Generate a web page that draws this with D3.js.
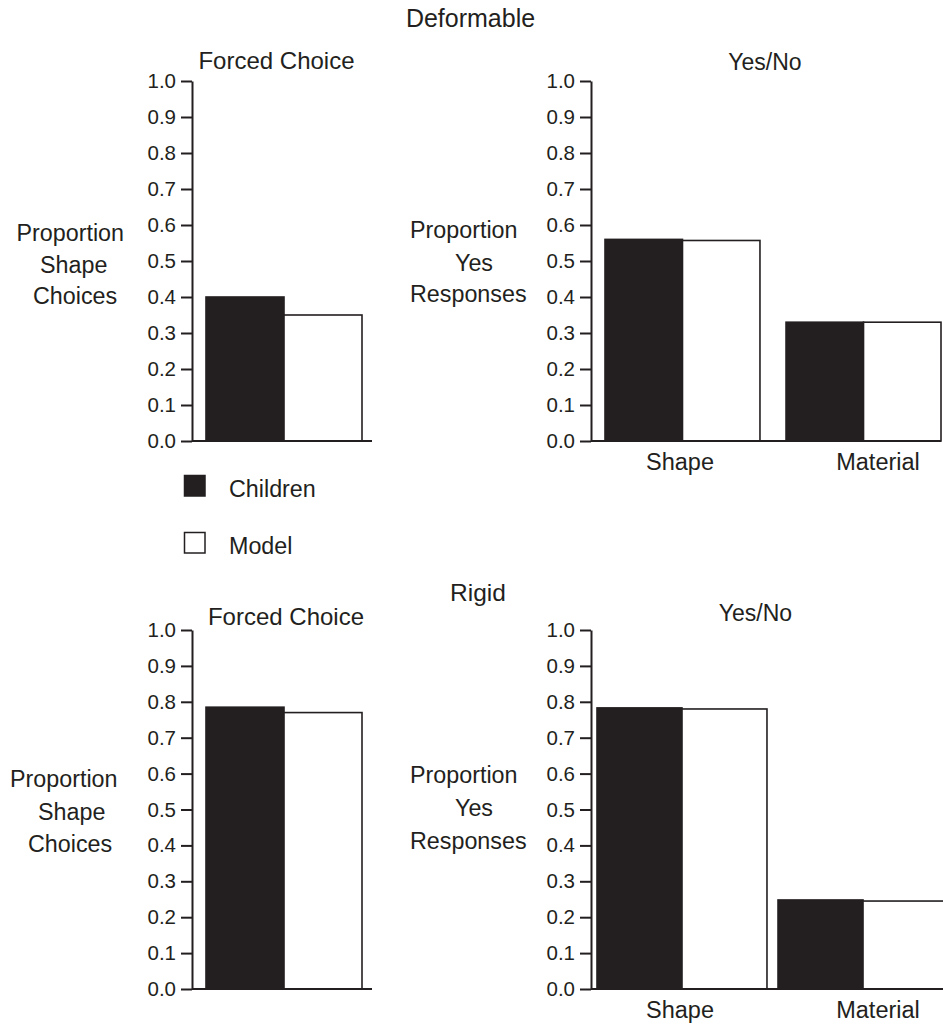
<!DOCTYPE html>
<html>
<head>
<meta charset="utf-8">
<script src="https://cdn.jsdelivr.net/npm/d3@7"></script>
<style>
  html, body { margin: 0; padding: 0; background: #fff; }
  svg { display: block; }
  text { font-family: "Liberation Sans", Arial, sans-serif; fill: #231f20; }
</style>
</head>
<body>
<svg id="chart" width="943" height="1025"></svg>
<script>
// ---------------- data ----------------
const series = ["Children", "Model"];
const forcedCategories = ["Forced Choice"];
const yesNoCategories = ["Shape", "Material"];
const yTicks = [0.0, 0.1, 0.2, 0.3, 0.4, 0.5, 0.6, 0.7, 0.8, 0.9, 1.0];

// Deformable
const deformableForcedChildren = [0.40];
const deformableForcedModel = [0.35];
const deformableYesNoChildren = [0.56, 0.33];
const deformableYesNoModel = [0.557, 0.33];

// Rigid
const rigidForcedChildren = [0.785];
const rigidForcedModel = [0.77];
const rigidYesNoChildren = [0.783, 0.248];
const rigidYesNoModel = [0.78, 0.245];

// ---------------- drawing ----------------
const INK = "#231f20";
const fills = { Children: INK, Model: "#ffffff" };
const svg = d3.select("#chart");

function panel(opts) {
  const g = svg.append("g");
  const y = d3.scaleLinear().domain([0, 1]).range([opts.yBottom, opts.yTop]);
  const x = d3.scaleBand().domain(opts.categories).range(opts.groupRange)
    .paddingInner(opts.paddingInner).paddingOuter(0);
  const xs = d3.scaleBand().domain(series).range([0, x.bandwidth()]);

  const rows = [];
  opts.categories.forEach((c, i) => {
    rows.push({ cat: c, s: "Children", v: opts.children[i] });
    rows.push({ cat: c, s: "Model", v: opts.model[i] });
  });

  g.selectAll("rect.bar").data(rows).enter().append("rect")
    .attr("class", "bar")
    .attr("x", d => x(d.cat) + xs(d.s))
    .attr("y", d => y(d.v))
    .attr("width", xs.bandwidth())
    .attr("height", d => y(0) - y(d.v))
    .attr("fill", d => fills[d.s])
    .attr("stroke", INK)
    .attr("stroke-width", 1.6);

  // baseline
  g.append("line")
    .attr("x1", opts.axisX).attr("x2", opts.baselineEnd)
    .attr("y1", y(0)).attr("y2", y(0))
    .attr("stroke", INK).attr("stroke-width", 2);

  // y axis
  const ax = g.append("g")
    .attr("transform", `translate(${opts.axisX},0)`)
    .call(d3.axisLeft(y).tickValues(yTicks).tickFormat(d3.format(".1f"))
      .tickSize(11).tickSizeOuter(0).tickPadding(5));
  ax.select(".domain").attr("stroke", INK).attr("stroke-width", 2);
  ax.selectAll(".tick line").attr("stroke", INK).attr("stroke-width", 2);
  ax.selectAll(".tick text")
    .attr("font-size", 20.5)
    .attr("font-family", "'Liberation Sans', Arial, sans-serif")
    .attr("fill", INK);

  // category labels
  if (opts.labelRange) {
    const lx = d3.scalePoint().domain(opts.categories).range(opts.labelRange);
    g.selectAll("text.cat").data(opts.categories).enter().append("text")
      .attr("class", "cat")
      .attr("x", d => lx(d))
      .attr("y", opts.labelBaseline)
      .attr("text-anchor", "middle")
      .attr("font-size", 23.5)
      .text(d => d);
  }
}

// Top-left: Deformable forced choice
panel({
  yTop: 81, yBottom: 441, axisX: 192, baselineEnd: 372,
  categories: forcedCategories, groupRange: [206, 362], paddingInner: 0,
  children: deformableForcedChildren, model: deformableForcedModel
});
// Top-right: Deformable yes/no
panel({
  yTop: 81, yBottom: 441, axisX: 591, baselineEnd: 941,
  categories: yesNoCategories, groupRange: [605, 941], paddingInner: 0.144,
  children: deformableYesNoChildren, model: deformableYesNoModel,
  labelRange: [680, 878], labelBaseline: 470
});
// Bottom-left: Rigid forced choice
panel({
  yTop: 630, yBottom: 989, axisX: 192, baselineEnd: 372,
  categories: forcedCategories, groupRange: [206, 362], paddingInner: 0,
  children: rigidForcedChildren, model: rigidForcedModel
});
// Bottom-right: Rigid yes/no
panel({
  yTop: 630, yBottom: 989, axisX: 591, baselineEnd: 950,
  categories: yesNoCategories, groupRange: [597, 948], paddingInner: 0.061,
  children: rigidYesNoChildren, model: rigidYesNoModel,
  labelRange: [680, 878], labelBaseline: 1018
});

// titles
function txt(s, x, y, size, anchor) {
  svg.append("text").attr("x", x).attr("y", y)
    .attr("font-size", size).attr("text-anchor", anchor || "middle").text(s);
}
txt("Deformable", 470.5, 27, 25);
txt("Forced Choice", 276.5, 69, 24);
txt("Yes/No", 765, 70, 23);
txt("Rigid", 478, 600.5, 24.5);
txt("Forced Choice", 286, 625, 24);
txt("Yes/No", 755.5, 620.5, 23);

// y-axis labels
txt("Proportion", 16.5, 241, 23.3, "start");
txt("Shape", 40, 272.5, 23.3, "start");
txt("Choices", 33, 303.5, 23.3, "start");

txt("Proportion", 10, 787, 23.3, "start");
txt("Shape", 38, 819.5, 23.3, "start");
txt("Choices", 28, 851.5, 23.3, "start");

txt("Proportion", 410, 237.5, 23.3, "start");
txt("Yes", 455, 270.5, 23.3, "start");
txt("Responses", 410, 301.5, 23.3, "start");

txt("Proportion", 410, 782.5, 23.3, "start");
txt("Yes", 455, 815.5, 23.3, "start");
txt("Responses", 410, 848.5, 23.3, "start");

// legend
const legend = svg.append("g");
const legendRows = legend.selectAll("g").data(series).enter().append("g");
const ly = d3.scalePoint().domain(series).range([475.5, 532.5]);
legendRows.append("rect")
  .attr("x", 184.5).attr("y", d => ly(d))
  .attr("width", 20.5).attr("height", 20.5)
  .attr("fill", d => fills[d]).attr("stroke", INK).attr("stroke-width", 1.5);
legendRows.append("text")
  .attr("x", 229).attr("y", d => ly(d) + 21)
  .attr("font-size", 23.3).text(d => d);
</script>
</body>
</html>
